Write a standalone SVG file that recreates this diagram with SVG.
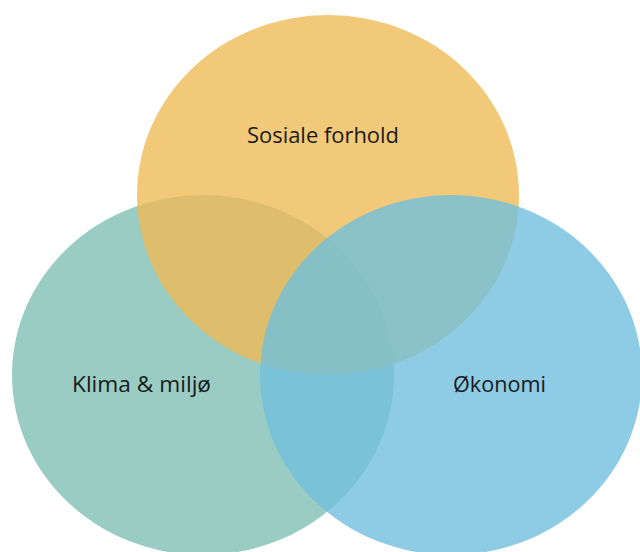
<svg xmlns="http://www.w3.org/2000/svg" width="640" height="552" viewBox="0 0 640 552">
<style>
.c{opacity:0.8}
.t{font-family:"Open Sans","Noto Sans","Liberation Sans",sans-serif;font-size:22px;fill:#1a1a1a;text-anchor:middle}
</style>
<rect width="640" height="552" fill="#ffffff"/>
<g id="klima">
<ellipse class="c" cx="203" cy="375" rx="191" ry="180" fill="#80BFB3"/>
</g>
<g id="sosiale">
<ellipse class="c" cx="328" cy="195" rx="191" ry="180" fill="#EFBA58"/>
</g>
<g id="okonomi">
<ellipse class="c" cx="451" cy="375" rx="191" ry="180" fill="#70BFDD"/>
</g>
<g id="labels">
<text class="t" x="323" y="143" textLength="152" lengthAdjust="spacingAndGlyphs">Sosiale forhold</text>
<text class="t" x="141.5" y="392" textLength="139" lengthAdjust="spacingAndGlyphs">Klima &amp; miljø</text>
<text class="t" x="499.5" y="392" textLength="93" lengthAdjust="spacingAndGlyphs">Økonomi</text>
</g>
<g id="connectors"/>
</svg>
